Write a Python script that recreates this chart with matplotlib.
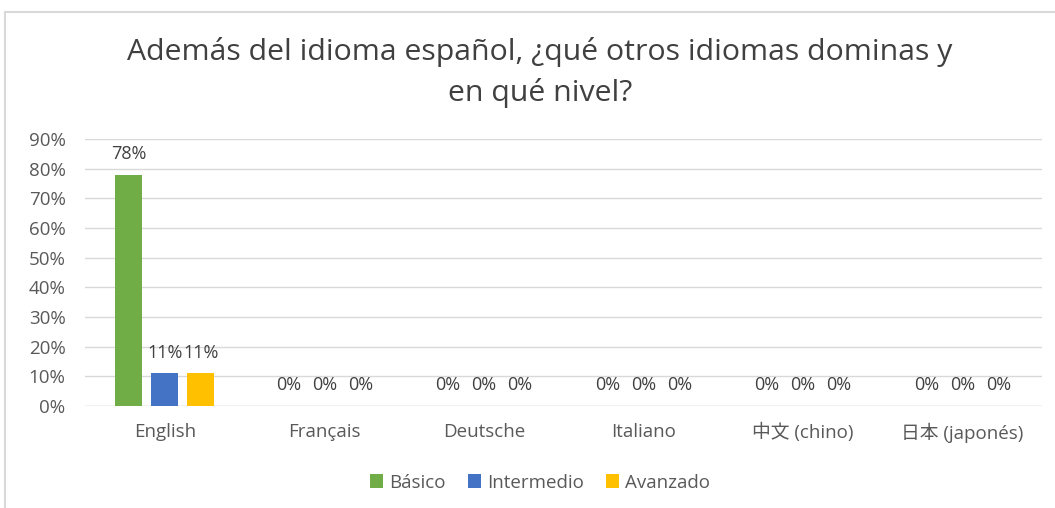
import numpy as np
import matplotlib.pyplot as plt
from matplotlib.patches import Rectangle

# data
languages = ["English", "Français", "Deutsche", "Italiano", "中文 (chino)", "日本 (japonés)"]
levels = ["Básico", "Intermedio", "Avanzado"]
basico = [78, 0, 0, 0, 0, 0]
intermedio = [11, 0, 0, 0, 0, 0]
avanzado = [11, 0, 0, 0, 0, 0]
colors = ["#70AD47", "#4472C4", "#FFC000"]
title = "Además del idioma español, ¿qué otros idiomas dominas y\nen qué nivel?"

plt.rcParams["font.family"] = ["Open Sans", "Noto Sans CJK JP", "DejaVu Sans"]

fig = plt.figure(figsize=(10.55, 5.08), dpi=100)
# chart frame
fig.patches.append(Rectangle((5 / 1055, -0.1), 1.2, 0.976 + 0.1, transform=fig.transFigure,
                             fill=False, edgecolor="#D9D9D9", linewidth=1.5))

ax = fig.add_axes([0.0806, 0.2008, 0.9074, 0.5252])
x = np.arange(len(languages))
width = 0.17
offsets = [-0.225, 0, 0.225]
series = [basico, intermedio, avanzado]

for vals, off, col, lab in zip(series, offsets, colors, levels):
    bars = ax.bar(x + off, vals, width, color=col, label=lab, zorder=3)
    for b, v in zip(bars, vals):
        ax.annotate(f"{v}%", (b.get_x() + b.get_width() / 2, v), xytext=(0, 15),
                    textcoords="offset points", ha="center", va="center",
                    fontsize=13, color="#404040")

ax.set_xlim(-0.5, len(languages) - 0.5)
ax.set_ylim(0, 90)
ax.set_yticks(range(0, 91, 10))
ax.set_yticklabels([f"{t}%" for t in range(0, 91, 10)], fontsize=13.5, color="#595959")
ax.set_xticks(x)
ax.set_xticklabels(languages, fontsize=13.5, color="#595959")
ax.tick_params(axis="both", length=0)
ax.tick_params(axis="x", pad=12)
ax.tick_params(axis="y", pad=14)
ax.grid(axis="y", color="#D9D9D9", linewidth=1, zorder=0)
for s in ax.spines.values():
    s.set_visible(False)
ax.axhline(0, color="#D9D9D9", linewidth=1, zorder=1)

fig.text(0.512, 0.857, title, ha="center", va="center", fontsize=21.8, color="#404040",
         linespacing=1.45)

fig.legend(loc="center", bbox_to_anchor=(0.512, 0.05), ncol=3, frameon=False,
           fontsize=13.5, handlelength=0.7, handleheight=0.7, handletextpad=0.3,
           columnspacing=1.2, labelcolor="#595959")

fig.savefig("out.png", dpi=100)
